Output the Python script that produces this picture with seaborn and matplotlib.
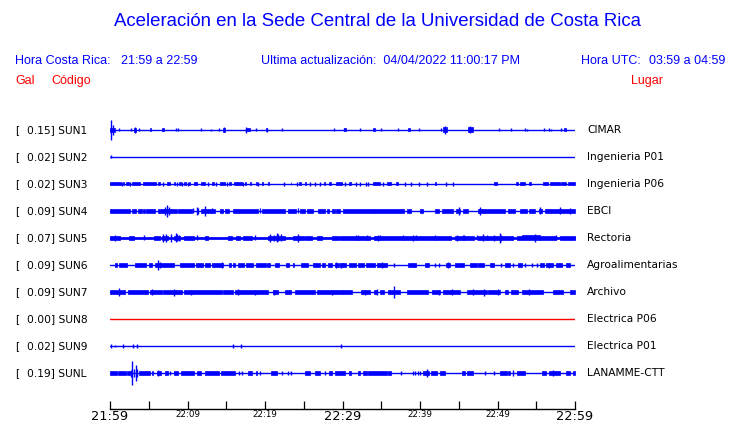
import matplotlib
matplotlib.use("Agg")
import matplotlib.pyplot as plt
import seaborn as sns

# ---------------- data ----------------
codes = ["SUN1", "SUN2", "SUN3", "SUN4", "SUN5", "SUN6", "SUN7", "SUN8", "SUN9", "SUNL"]
peak_gal = ["0.15", "0.02", "0.02", "0.09", "0.07", "0.09", "0.09", "0.00", "0.02", "0.19"]
places = ["CIMAR", "Ingenieria P01", "Ingenieria P06", "EBCI", "Rectoria",
          "Agroalimentarias", "Archivo", "Electrica P06", "Electrica P01", "LANAMME-CTT"]
active = [True, True, True, True, True, True, True, False, True, True]

tick_minutes = [0, 5, 10, 15, 20, 25, 30, 35, 40, 45, 50, 55, 60]
tick_labels = ["21:59", "", "22:09", "", "22:19", "", "22:29", "", "22:39", "", "22:49", "", "22:59"]
major_labels = ["21:59", "22:29", "22:59"]

# envelope bursts: (start minute, end minute, relative amplitude)
sun1_bands = [(0.0, 0.7, 2.3), (3.1, 3.4, 2.0), (5.1, 5.3, 1.5), (6.7, 7.0, 1.5), (14.6, 14.8, 2.0),
              (17.5, 18.1, 1.5), (20.1, 20.3, 1.5), (30.2, 30.4, 1.5), (33.9, 34.2, 1.5),
              (38.5, 38.7, 1.5), (43.0, 43.5, 2.5), (46.2, 46.8, 2.5), (58.6, 58.8, 1.5)]
sun1_spikes = [(0.13, 10), (0.4, 5), (1.2, 1.5), (2.7, 1.5), (3.25, 3), (3.8, 1.5), (8.5, 1.5),
               (8.8, 1.5), (11.8, 1.5), (13.0, 1.2), (14.1, 1.5), (14.7, 2.5), (17.5, 3),
               (18.9, 1.5), (20.2, 2), (22.2, 1.5), (28.9, 1.5), (30.2, 1.5), (32.3, 1.5),
               (35.0, 1.5), (37.2, 1.5), (39.9, 1.5), (42.7, 1.5), (43.2, 4.3), (46.5, 3.5),
               (50.2, 1.5), (51.7, 1.5), (53.6, 1.5), (53.8, 1.2), (56.0, 1.5), (56.6, 1.5),
               (56.9, 1.2), (58.2, 1.5)]

sun2_bands = []
sun2_spikes = [(0.1, 1.5)]

sun3_bands = [(0, 1.4, 1.5), (1.7, 1.8, 1.5), (2.0, 2.5, 1.5), (2.8, 3.9, 1.5), (4.3, 5.9, 1.5),
              (6.2, 6.5, 1.5), (7.3, 7.7, 1.5), (8.2, 8.4, 1.5), (8.9, 9.1, 1.5), (9.6, 9.8, 1.5),
              (10.2, 10.35, 1.5), (10.8, 11.2, 1.5), (11.8, 12.3, 1.5), (13.2, 13.4, 1.5),
              (14.2, 14.9, 1.5), (15.4, 15.6, 1.5), (16.0, 17.0, 1.5), (17.4, 17.6, 1.5),
              (18.0, 18.2, 1.5), (18.8, 18.95, 1.5), (19.6, 19.8, 1.5), (20.4, 20.55, 1.5),
              (23.3, 23.4, 1.5), (24.4, 24.7, 1.5), (25.1, 25.3, 1.5), (27.6, 27.7, 1.5),
              (28.3, 28.5, 1.5), (29.1, 29.9, 1.5), (30.9, 31.1, 1.5), (33.9, 34.9, 1.5),
              (35.8, 36.3, 1.5), (36.9, 37.2, 1.5), (41.9, 42.1, 1.5), (49.5, 49.9, 1.5),
              (52.4, 52.7, 1.5), (52.9, 53.6, 1.5), (54.0, 54.3, 1.5), (55.9, 56.5, 1.5),
              (56.8, 58.0, 1.5), (58.2, 58.9, 1.5), (59.1, 60.0, 1.5)]
sun3_spikes = [(1.5, 1.8), (2.6, 1.8), (6.9, 1.8), (8.7, 1.8), (9.3, 1.8), (10.0, 1.8), (12.6, 1.8),
               (13.7, 1.8), (15.1, 1.8), (17.2, 1.8), (19.1, 1.8), (22.4, 1.8), (24.1, 1.8),
               (25.8, 1.8), (26.4, 1.8), (27.1, 1.8), (30.3, 1.8), (31.7, 1.8), (32.2, 1.8),
               (33.0, 1.8), (33.3, 1.8), (35.2, 1.8), (38.1, 1.8), (38.9, 1.8), (39.9, 1.8),
               (40.9, 1.8), (43.4, 1.8), (44.2, 1.8)]

sun4_bands = [(0, 2.6, 1.6), (2.9, 3.4, 1.6), (3.6, 4.1, 1.6), (4.2, 4.5, 1.6), (4.7, 5.8, 1.6),
              (6.2, 7.0, 1.8), (7.0, 7.9, 2.1), (7.9, 8.6, 1.6), (8.8, 10.6, 1.6), (11.7, 13.5, 1.6),
              (14.2, 14.6, 1.6), (14.9, 15.4, 1.6), (15.9, 19.1, 1.6), (19.6, 22.6, 1.6),
              (23.0, 24.0, 1.6), (24.5, 25.2, 1.6), (25.4, 26.2, 1.6), (26.9, 27.7, 1.6),
              (28.0, 28.3, 1.6), (28.6, 29.0, 1.6), (29.2, 29.7, 1.6), (30.0, 34.0, 1.6),
              (34.0, 37.9, 1.6), (38.3, 38.9, 1.6), (40.0, 40.4, 1.6), (41.9, 42.4, 1.6),
              (42.8, 44.3, 1.6), (44.7, 45.2, 2.1), (45.6, 46.2, 1.6), (47.5, 48.1, 2.1),
              (48.1, 51.0, 1.6), (51.4, 52.3, 1.6), (52.9, 53.8, 1.6), (54.0, 54.8, 1.6),
              (55.3, 55.7, 1.8), (56.1, 60.0, 1.8)]
sun4_spikes = [(7.1, 4), (7.4, 6), (7.65, 4), (10.75, 2.5), (11.2, 4), (11.3, 3), (12.2, 5),
               (13.1, 2.5), (19.35, 2.5), (24.3, 2.5), (45.0, 4), (47.8, 3.7), (55.5, 3.5),
               (58.1, 3.5), (59.4, 3)]

sun5_bands = [(0, 60, 1.4), (0, 1.3, 2.1), (2.4, 3.1, 2.1), (5.7, 6.5, 2.1), (6.7, 7.5, 2.3),
              (8.3, 9.0, 2.3), (9.5, 10.9, 2.1), (12.3, 12.7, 2.1), (15.2, 15.7, 2.1),
              (16.3, 16.8, 2.1), (17.2, 18.3, 2.1), (20.4, 22.6, 2.3), (23.6, 25.0, 2.3),
              (25.2, 26.0, 2.1), (26.7, 27.3, 2.1), (28.6, 29.5, 2.1), (29.7, 33.5, 2.1),
              (34.0, 44.0, 2.1), (44.5, 47.0, 2.1), (47.5, 52.0, 2.1), (52.5, 53.1, 2.1),
              (53.1, 55.5, 2.5), (55.5, 57.5, 2.3), (58.0, 60.0, 2.1)]
sun5_spikes = [(0.65, 3.3), (4.4, 2.5), (6.9, 4.3), (7.2, 4), (7.9, 4), (8.5, 4.5), (8.7, 3.5),
               (8.9, 3), (11.2, 2.5), (18.7, 2.5), (20.6, 3.7), (21.1, 3), (21.5, 4.5),
               (21.7, 3.5), (22.1, 3.5), (24.3, 4), (31.8, 2.5), (32.0, 2.5), (33.1, 2.5),
               (34.6, 3), (34.8, 2.5), (37.8, 2.5), (39.1, 3), (39.5, 2.5), (41.9, 2.5),
               (44.8, 2.7), (45.5, 2.5), (45.7, 2.5), (47.3, 2.5), (48.1, 3.5), (48.6, 2.5),
               (49.6, 3), (50.3, 4.7), (50.5, 3), (54.8, 4), (57.5, 2.5)]

sun6_bands = [(0.6, 0.9, 1.7), (1.2, 2.2, 1.7), (3.2, 3.7, 1.7), (3.8, 4.7, 1.7), (5.0, 5.4, 1.7),
              (5.8, 8.2, 1.7), (9.0, 10.8, 1.7), (11.1, 12.0, 1.7), (12.3, 12.9, 1.7),
              (13.2, 14.6, 1.7), (15.4, 15.6, 1.7), (15.9, 16.1, 1.7), (16.5, 17.3, 1.7),
              (17.6, 18.5, 1.7), (18.9, 20.1, 1.7), (20.2, 20.6, 1.7), (21.3, 21.8, 1.7),
              (22.7, 23.1, 1.7), (23.6, 23.8, 1.7), (24.7, 25.5, 1.7), (26.2, 27.1, 1.7),
              (27.3, 27.7, 1.7), (28.1, 28.6, 1.7), (29.0, 29.5, 1.7), (29.7, 30.1, 1.7),
              (30.1, 30.5, 1.7), (30.8, 31.8, 1.7), (32.0, 32.8, 1.7), (33.0, 34.2, 1.7),
              (34.4, 35.7, 1.7), (38.5, 39.1, 1.7), (39.1, 39.5, 1.7), (40.6, 41.1, 1.7),
              (43.3, 43.9, 1.7), (44.5, 45.7, 1.7), (46.5, 47.4, 1.7), (47.5, 48.2, 1.7),
              (49.0, 49.6, 1.7), (51.0, 51.6, 1.7), (52.6, 53.1, 1.7), (55.5, 56.0, 1.7),
              (56.3, 57.1, 1.7), (57.6, 58.3, 1.7), (58.9, 59.3, 1.7)]
sun6_spikes = [(6.2, 5.3), (6.5, 3), (14.4, 3), (29.2, 3), (29.8, 2.5), (35.1, 3.3), (36.6, 1.7),
               (41.9, 1.7), (42.4, 1.7), (43.6, 2.7), (50.4, 1.7), (52.0, 1.7), (53.6, 1.7),
               (54.5, 1.7), (55.1, 1.7), (56.6, 2.5)]

sun7_bands = [(0, 1.9, 1.8), (2.3, 4.9, 1.8), (5.2, 6.7, 1.8), (6.9, 9.3, 1.8), (9.5, 14.4, 1.8),
              (14.6, 15.9, 1.8), (16.1, 20.4, 1.8), (21.0, 21.7, 1.8), (22.6, 23.4, 1.8),
              (23.9, 26.5, 1.8), (26.7, 30.1, 1.8), (30.1, 31.2, 1.8), (32.4, 33.6, 1.8),
              (34.0, 34.4, 1.8), (34.8, 35.3, 1.8), (35.9, 37.4, 1.8), (38.3, 41.0, 1.8),
              (41.5, 42.6, 1.8), (43.0, 45.1, 1.8), (46.0, 48.6, 1.8), (48.8, 50.3, 1.8),
              (51.0, 51.4, 1.8), (51.8, 52.7, 1.8), (53.1, 55.9, 1.8), (57.2, 58.5, 1.8),
              (59.4, 60.0, 1.8)]
sun7_spikes = [(1.1, 3.7), (5.4, 3), (8.2, 3.5), (10.4, 2.5), (16.5, 3), (18.7, 2.5), (21.1, 2.5),
               (28.6, 2.5), (32.9, 2.5), (34.5, 3), (36.7, 5.7), (42.5, 2.5), (44.1, 3),
               (46.9, 3), (48.2, 3.5), (50.1, 3), (54.1, 3)]

sun8_bands = []
sun8_spikes = []

sun9_bands = []
sun9_spikes = [(0.1, 1.7), (0.6, 1.2), (1.7, 1.7), (3.0, 1.7), (3.5, 1.7), (15.9, 1.7),
               (16.9, 1.7), (29.8, 1.7)]

sunl_bands = [(0, 0.9, 1.7), (1.0, 2.0, 1.7), (2.2, 2.6, 1.7), (3.7, 5.2, 1.7), (5.4, 5.6, 1.7),
              (6.0, 6.6, 1.7), (7.1, 7.5, 1.7), (8.2, 8.8, 1.7), (9.2, 10.9, 1.7), (11.2, 11.8, 1.7),
              (12.2, 14.0, 1.7), (14.3, 16.1, 1.7), (17.8, 18.3, 1.7), (18.8, 19.0, 1.7),
              (20.8, 21.5, 1.7), (25.2, 25.8, 1.7), (26.5, 27.1, 1.7), (28.3, 28.6, 1.7),
              (29.0, 30.3, 1.7), (30.8, 31.1, 1.7), (32.0, 32.3, 1.7), (32.7, 33.1, 1.7),
              (33.3, 35.7, 1.7), (35.9, 36.2, 1.7), (40.4, 41.1, 1.7), (41.4, 42.2, 1.7),
              (42.6, 43.2, 1.7), (45.4, 45.8, 1.7), (46.0, 46.9, 1.7), (50.3, 51.2, 1.7),
              (51.4, 51.6, 1.7), (52.5, 53.6, 1.7), (55.7, 56.3, 1.7), (56.6, 58.1, 1.7),
              (58.9, 59.3, 1.7), (59.8, 60.0, 1.7)]
sunl_spikes = [(2.7, 3.5), (2.9, 12), (3.15, 4), (3.35, 8), (3.5, 4), (6.2, 3), (7.8, 1.7),
               (16.6, 1.7), (17.0, 1.7), (19.4, 1.7), (22.2, 1.7), (23.0, 1.7), (23.4, 1.7),
               (27.7, 1.7), (37.6, 1.7), (39.1, 1.7), (39.4, 1.7), (39.7, 1.7), (40.0, 1.7),
               (40.9, 4), (48.4, 1.7), (49.5, 1.7), (52.0, 2.5), (57.2, 3)]

all_bands = [sun1_bands, sun2_bands, sun3_bands, sun4_bands, sun5_bands,
             sun6_bands, sun7_bands, sun8_bands, sun9_bands, sunl_bands]
all_spikes = [sun1_spikes, sun2_spikes, sun3_spikes, sun4_spikes, sun5_spikes,
              sun6_spikes, sun7_spikes, sun8_spikes, sun9_spikes, sunl_spikes]

# ---------------- figure ----------------
sns.set_theme(style="white")
plt.rcParams["font.family"] = ["DejaVu Sans"]

W, H = 740, 423
fig = plt.figure(figsize=(W / 100, H / 100), dpi=100)
fig.patch.set_facecolor("white")

def fx(px):
    return px / W

def fy(py):
    return 1 - py / H

# axes: x 110..575 px, y 115..409 px
ax = fig.add_axes([fx(110), fy(409), (575 - 110) / W, (409 - 115) / H])
ax.set_facecolor("white")
SP = 27.0  # amplitude units per trace spacing
top = 15 / SP
ax.set_xlim(0, 60)
ax.set_ylim(top - (409 - 115) / SP, top)

BLUE = "#0000ff"
RED = "#ff0000"

for i, code in enumerate(codes):
    y0 = -i
    col = BLUE if active[i] else RED
    sns.lineplot(x=[0, 60], y=[y0, y0], color=col, linewidth=1.0, ax=ax, legend=False)
    for (t0, t1, a) in all_bands[i]:
        ax.fill_between([t0, t1], [y0 - a / SP] * 2, [y0 + a / SP] * 2,
                        color=col, linewidth=0.5, edgecolor=col)
    if all_spikes[i]:
        ts = [s[0] for s in all_spikes[i]]
        lo = [y0 - s[1] / SP for s in all_spikes[i]]
        hi = [y0 + s[1] / SP for s in all_spikes[i]]
        ax.vlines(ts, lo, hi, color=col, linewidth=1.0)

for s in ["top", "left", "right"]:
    ax.spines[s].set_visible(False)
ax.spines["bottom"].set_color("black")
ax.spines["bottom"].set_linewidth(1.0)
ax.set_yticks([])
ax.set_xticks(tick_minutes)
ax.set_xticklabels(tick_labels)
ax.tick_params(axis="x", direction="in", length=6, width=0.9, color="black", pad=0.5,
               bottom=True)
for lab in ax.get_xticklabels():
    if lab.get_text() in major_labels:
        lab.set_fontsize(9.3)
    else:
        lab.set_fontsize(6.3)
    lab.set_color("black")
ax.set_xlabel("")
ax.set_ylabel("")
ax.grid(False)

# station labels
for i, code in enumerate(codes):
    ypx = 130 + 27 * i
    fig.text(fx(15), fy(ypx), "[", fontsize=7.7, va="center", ha="left", color="black")
    fig.text(fx(27), fy(ypx), f"{peak_gal[i]}] {code}", fontsize=7.7, va="center",
             ha="left", color="black")
    fig.text(fx(587), fy(ypx), places[i], fontsize=7.7, va="center", ha="left", color="black")

# header
HF = ["Liberation Sans", "DejaVu Sans"]
fig.text(fx(378), fy(22), "Aceleración en la Sede Central de la Universidad de Costa Rica",
         fontsize=13.4, color=BLUE, ha="center", va="center", family=HF)
fig.text(fx(15), fy(61), "Hora Costa Rica:", fontsize=9, color=BLUE, ha="left", va="center", family=HF)
fig.text(fx(121), fy(61), "21:59 a 22:59", fontsize=9, color=BLUE, ha="left", va="center", family=HF)
fig.text(fx(261), fy(61), "Ultima actualización:  04/04/2022 11:00:17 PM", fontsize=9, color=BLUE,
         ha="left", va="center", family=HF)
fig.text(fx(581), fy(61), "Hora UTC:", fontsize=9, color=BLUE, ha="left", va="center", family=HF)
fig.text(fx(725), fy(61), "03:59 a 04:59", fontsize=9, color=BLUE, ha="right", va="center", family=HF)
fig.text(fx(15), fy(81), "Gal", fontsize=9, color=RED, ha="left", va="center", family=HF)
fig.text(fx(51), fy(81), "Código", fontsize=9, color=RED, ha="left", va="center", family=HF)
fig.text(fx(663), fy(81), "Lugar", fontsize=9, color=RED, ha="right", va="center", family=HF)

fig.savefig("out.png", dpi=100, facecolor="white")
